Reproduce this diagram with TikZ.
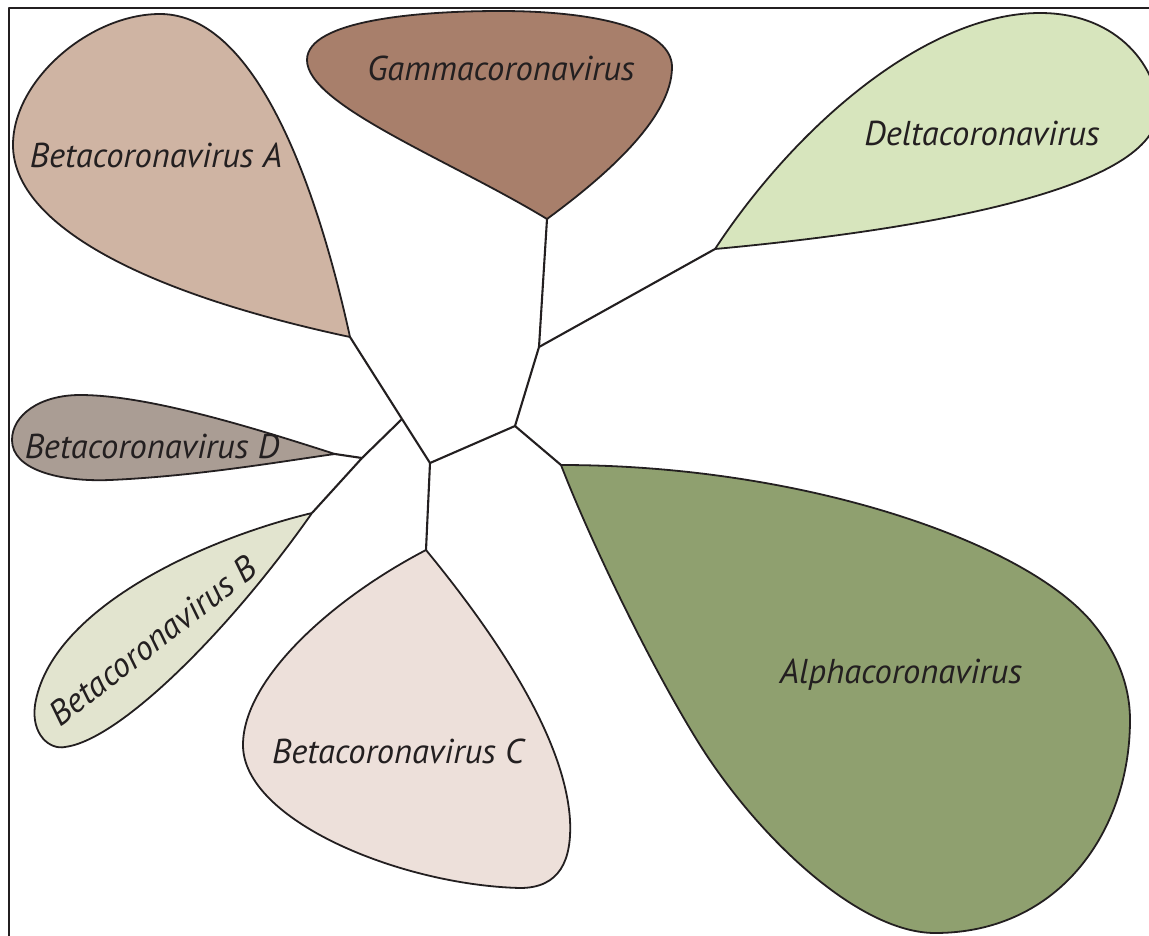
\documentclass[tikz,border=0pt]{standalone}
\usepackage{fontspec}
\setmainfont{PT Sans}
\definecolor{cA}{HTML}{CFB4A3}
\definecolor{cG}{HTML}{A87F6B}
\definecolor{cDe}{HTML}{D7E5BD}
\definecolor{cD}{HTML}{AA9D94}
\definecolor{cB}{HTML}{E2E4CF}
\definecolor{cC}{HTML}{EDE0DA}
\definecolor{cAl}{HTML}{8FA06F}
\definecolor{ink}{HTML}{231F20}
\begin{document}
\begin{tikzpicture}[x=1pt,y=-1pt,line join=round,
  leaf/.style={draw=ink,line width=1.8pt},
  branch/.style={draw=ink,line width=2.1pt},
  frame/.style={draw=ink,line width=2.2pt},
  lbl/.style={font=\fontsize{34.5}{40}\selectfont\itshape,text=ink,anchor=base,inner sep=0pt}]
\clip (0,0) rectangle (1149,935);
\fill[white] (0,0) rectangle (1149,935);
% frame
\coordinate (f1) at (9,940);
\coordinate (f2) at (9,8);
\coordinate (f3) at (1155,8);
\draw[frame] (f1) -- (f2) -- (f3);
% tips and junctions
\coordinate (tA) at (350,337);
\coordinate (tG) at (547,219);
\coordinate (tDe) at (715,249);
\coordinate (tD) at (335,454);
\coordinate (tB) at (312,513);
\coordinate (tC) at (426,550);
\coordinate (tAl) at (561,465);
\coordinate (j1) at (402,419);
\coordinate (j2) at (430,463);
\coordinate (j3) at (515,426);
\coordinate (j4) at (539,347);
\coordinate (j5) at (362,458);
% leaves
\draw[leaf,fill=cA] (tA) .. controls (320,200) and (260,14) .. (160,14)
  .. controls (90,14) and (13,80) .. (13,145)
  .. controls (13,220) and (130,290) .. (tA) -- cycle;
\draw[leaf,fill=cG] (tG) .. controls (450,160) and (307,105) .. (307,60)
  .. controls (307,20) and (420,11) .. (500,11)
  .. controls (600,11) and (672,30) .. (672,67)
  .. controls (672,120) and (600,180) .. (tG) -- cycle;
\draw[leaf,fill=cDe] (tDe) .. controls (800,120) and (930,13) .. (1040,13)
  .. controls (1120,13) and (1158,70) .. (1158,110)
  .. controls (1158,190) and (920,230) .. (tDe) -- cycle;
\draw[leaf,fill=cD] (tD) .. controls (260,430) and (150,395) .. (80,395)
  .. controls (40,395) and (12,415) .. (12,440)
  .. controls (12,470) and (60,482) .. (110,480)
  .. controls (200,476) and (290,460) .. (tD) -- cycle;
\draw[leaf,fill=cB] (tB) .. controls (200,540) and (50,610) .. (35,705)
  .. controls (31,735) and (50,750) .. (65,747)
  .. controls (120,740) and (230,630) .. (tB) -- cycle;
\draw[leaf,fill=cC] (tC) .. controls (330,600) and (243,680) .. (243,745)
  .. controls (243,820) and (400,885) .. (520,888)
  .. controls (560,888) and (572,860) .. (570,820)
  .. controls (565,740) and (500,640) .. (tC) -- cycle;
\draw[leaf,fill=cAl] (tAl) .. controls (800,465) and (1020,540) .. (1090,620)
  .. controls (1120,655) and (1130,690) .. (1130,720)
  .. controls (1130,830) and (1060,933) .. (935,933)
  .. controls (860,933) and (760,840) .. (700,745)
  .. controls (650,665) and (590,540) .. (tAl) -- cycle;
% branches
\draw[branch] (tA) -- (j1);
\draw[branch] (j1) -- (j2);
\draw[branch] (j1) -- (j5);
\draw[branch] (j5) -- (tB);
\draw[branch] (j5) -- (tD);
\draw[branch] (j2) -- (tC);
\draw[branch] (j2) -- (j3);
\draw[branch] (j3) -- (tAl);
\draw[branch] (j3) -- (j4);
\draw[branch] (j4) -- (tG);
\draw[branch] (j4) -- (tDe);
% labels
\node[lbl] (lA) at (156,167) {Betacoronavirus A};
\node[lbl] (lG) at (501,80) {Gammacoronavirus};
\node[lbl] (lDe) at (982,145) {Deltacoronavirus};
\node[lbl] (lD) at (152,458) {Betacoronavirus D};
\node[lbl,rotate=38] (lB) at (160,650) {Betacoronavirus B};
\node[lbl] (lC) at (398,763) {Betacoronavirus C};
\node[lbl] (lAl) at (901,683) {Alphacoronavirus};
\end{tikzpicture}
\end{document}
